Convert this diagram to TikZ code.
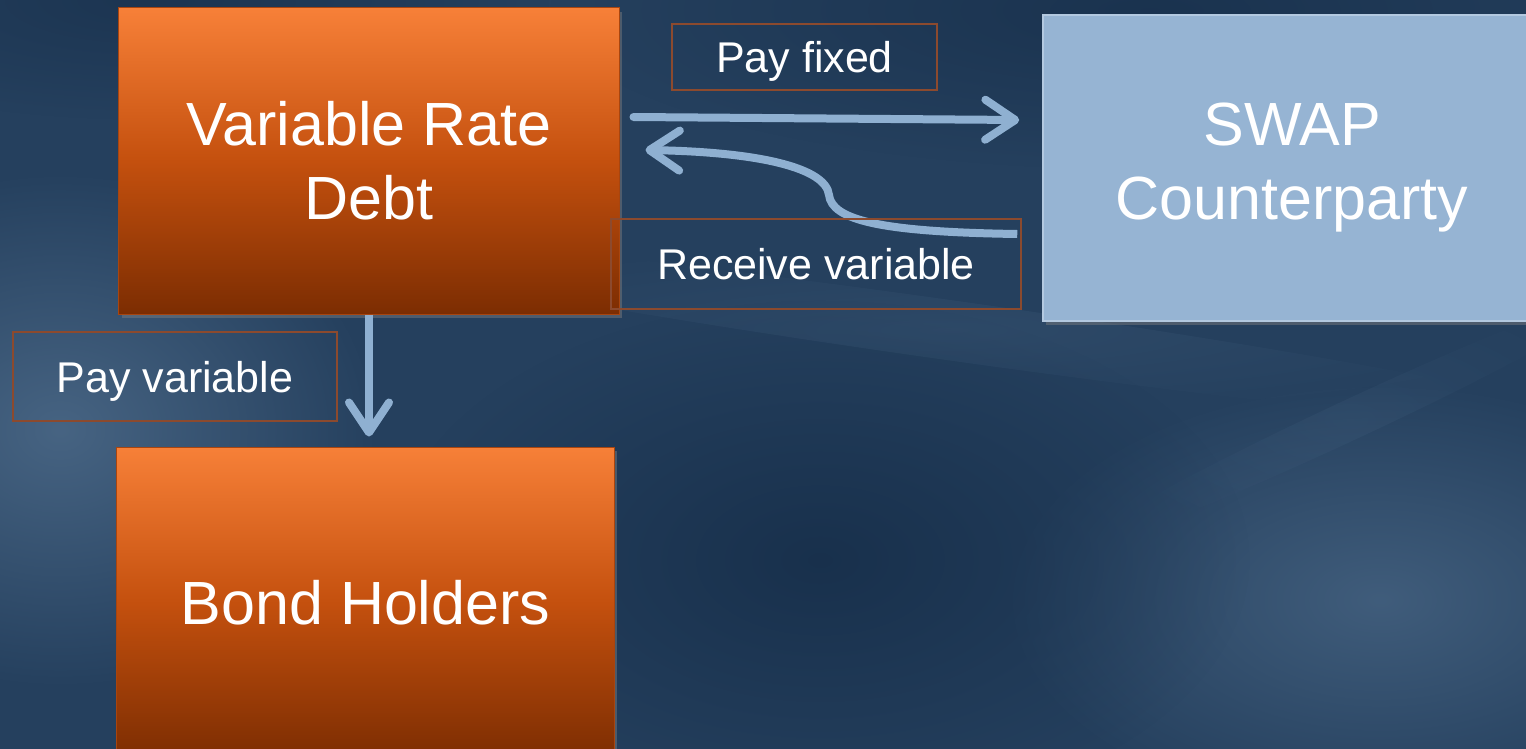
\documentclass[tikz,border=0pt]{standalone}
\usepackage{fontspec}
\setmainfont{Liberation Sans}
\usetikzlibrary{arrows.meta,shadows,fadings,calc}
\tikzfading[name=softspot, inner color=transparent!0, outer color=transparent!100]
\definecolor{bgbase}{HTML}{25405E}
\definecolor{bglight}{HTML}{52708F}
\definecolor{bgdark}{HTML}{132A45}
\definecolor{otop}{HTML}{F78038}
\definecolor{omid}{HTML}{C4500E}
\definecolor{obot}{HTML}{7C2D02}
\definecolor{oedge}{HTML}{A8450F}
\definecolor{sbox}{HTML}{96B4D3}
\definecolor{sedge}{HTML}{B3C9E0}
\definecolor{lbledge}{HTML}{8C4A2E}
\definecolor{flowc}{HTML}{8FB0D1}
\begin{document}
\begin{tikzpicture}[x=1bp,y=-1bp,
  obox/.style={rectangle, minimum width=500bp, minimum height=306bp, inner sep=0pt,
    top color=otop, bottom color=obot, middle color=omid, draw=oedge, line width=1bp,
    text=white, font=\fontsize{61bp}{74bp}\selectfont, align=center,
    drop shadow={shadow xshift=3bp, shadow yshift=-4bp, opacity=0.45}},
  sboxst/.style={rectangle, minimum width=498bp, minimum height=306bp, inner sep=0pt,
    fill=sbox, draw=sedge, line width=1.5bp,
    text=white, font=\fontsize{61bp}{74bp}\selectfont, align=center,
    drop shadow={shadow xshift=3bp, shadow yshift=-4bp, opacity=0.45}},
  lbl/.style={rectangle, draw=lbledge, line width=2bp, inner sep=0pt,
    text=white, font=\fontsize{43bp}{50bp}\selectfont, text height=31bp, text depth=0bp},
  flow/.style={draw=flowc, line width=8bp, line cap=round,
    -{Straight Barb[length=30bp,width=40bp,round]}}
]
\useasboundingbox (0,0) rectangle (1526,749);
\clip (0,0) rectangle (1526,749);
% background
\fill[bgbase] (0,0) rectangle (1526,749);
\fill[bglight, path fading=softspot, opacity=0.75] (60,430) ellipse (320 and 260);
\fill[bglight, path fading=softspot, opacity=0.6] (1380,600) ellipse (380 and 220);
\fill[bgdark, path fading=softspot, opacity=0.7] (820,560) ellipse (430 and 260);
\fill[bgdark, path fading=softspot, opacity=0.6] (1150,10) ellipse (600 and 160);
\fill[bgdark, path fading=softspot, opacity=0.5] (150,0) ellipse (400 and 120);
\fill[bglight, path fading=softspot, opacity=0.2, rotate around={-8:(950,330)}] (950,330) ellipse (650 and 30);
\fill[bglight, path fading=softspot, opacity=0.15, rotate around={25:(1350,420)}] (1350,420) ellipse (300 and 20);
% boxes
\node[obox] (vrd) at (369,161) {Variable Rate\\Debt};
\node[obox, minimum width=497bp, minimum height=312bp] (bond) at (365.5,603) {Bond Holders};
\node[sboxst] (swap) at (1292,168) {SWAP\\Counterparty};
% connectors
\draw[flow] ([xshift=14bp,yshift=44bp]vrd.east) -- ([xshift=-23bp,yshift=48bp]swap.west);
\draw[flow, line cap=butt] ([xshift=-25bp,yshift=-66bp]swap.west)
   .. controls (880,232) and (832,220) .. (829,195)
   .. controls (826,168) and (760,152) .. ([xshift=26bp,yshift=11bp]vrd.east);
\draw[flow, line cap=butt] (vrd.south) -- ([yshift=10bp]vrd.south |- bond.north);
% labels
\node[lbl, minimum width=265bp, minimum height=66bp] (lpf) at (804.5,57) {Pay fixed};
\node[lbl, minimum width=410bp, minimum height=90bp] (lrv) at (816,264) {Receive variable};
\node[lbl, minimum width=324bp, minimum height=89bp] (lpv) at (175,376.5) {Pay variable};
\end{tikzpicture}
\end{document}
